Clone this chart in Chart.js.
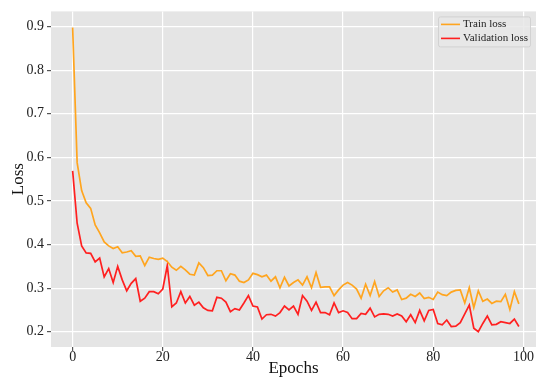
<!DOCTYPE html>
<html>
<head>
<meta charset="utf-8">
<script src="https://cdn.jsdelivr.net/npm/chart.js@4.4.1/dist/chart.umd.min.js"></script>
<style>
  html, body { margin: 0; padding: 0; background: #fff; overflow: hidden; }
  #wrap { width: 536px; height: 379px; }
</style>
</head>
<body>
<div id="wrap"><canvas id="lossChart" width="536" height="379"></canvas></div>
<script>
// values
var epochs = [];
for (var i = 0; i < 100; i++) epochs.push(i);

var trainLoss = [
  0.898, 0.588, 0.524, 0.496, 0.483, 0.445, 0.427, 0.406, 0.397, 0.391,
  0.395, 0.381, 0.383, 0.386, 0.373, 0.374, 0.352, 0.371, 0.368, 0.366,
  0.369, 0.361, 0.348, 0.341, 0.350, 0.342, 0.332, 0.330, 0.358, 0.347,
  0.329, 0.330, 0.340, 0.340, 0.317, 0.333, 0.330, 0.316, 0.313, 0.319,
  0.334, 0.331, 0.326, 0.330, 0.316, 0.326, 0.301, 0.325, 0.305, 0.313,
  0.319, 0.307, 0.326, 0.301, 0.336, 0.302, 0.303, 0.303, 0.283, 0.296,
  0.307, 0.313, 0.307, 0.298, 0.277, 0.309, 0.283, 0.315, 0.281, 0.294,
  0.301, 0.291, 0.296, 0.274, 0.277, 0.286, 0.281, 0.289, 0.276, 0.279,
  0.274, 0.291, 0.285, 0.283, 0.291, 0.295, 0.296, 0.266, 0.301, 0.255,
  0.294, 0.270, 0.275, 0.265, 0.270, 0.269, 0.286, 0.251, 0.292, 0.264
];

var validLoss = [
  0.569, 0.449, 0.397, 0.381, 0.380, 0.360, 0.369, 0.326, 0.345, 0.313,
  0.350, 0.319, 0.294, 0.311, 0.322, 0.270, 0.277, 0.292, 0.292, 0.287,
  0.298, 0.352, 0.257, 0.266, 0.292, 0.266, 0.281, 0.261, 0.268, 0.255,
  0.249, 0.248, 0.279, 0.277, 0.268, 0.246, 0.253, 0.250, 0.266, 0.283,
  0.259, 0.257, 0.229, 0.239, 0.240, 0.236, 0.244, 0.259, 0.250, 0.259,
  0.240, 0.283, 0.270, 0.249, 0.268, 0.244, 0.244, 0.239, 0.266, 0.244,
  0.248, 0.244, 0.230, 0.230, 0.242, 0.240, 0.254, 0.234, 0.240, 0.241,
  0.240, 0.236, 0.241, 0.236, 0.223, 0.239, 0.221, 0.249, 0.225, 0.249,
  0.251, 0.219, 0.216, 0.227, 0.212, 0.213, 0.221, 0.241, 0.261, 0.208,
  0.200, 0.219, 0.236, 0.216, 0.217, 0.223, 0.221, 0.219, 0.229, 0.212
];

var xTicks = [0, 20, 40, 60, 80, 100];
var yTicks = [0.2, 0.3, 0.4, 0.5, 0.6, 0.7, 0.8, 0.9];

var serif = '"Liberation Serif", "DejaVu Serif", serif';

// grey panel behind the plot, ggplot style
var panelBg = {
  id: 'panelBg',
  beforeDraw: function (chart) {
    var a = chart.chartArea;
    var ctx = chart.ctx;
    ctx.save();
    ctx.fillStyle = '#e5e5e5';
    ctx.fillRect(a.left, a.top, a.right - a.left, a.bottom - a.top);
    ctx.restore();
  }
};

// legend drawn inside the top right corner of the panel
var innerLegend = {
  id: 'innerLegend',
  afterDatasetsDraw: function (chart) {
    var a = chart.chartArea;
    var ctx = chart.ctx;
    var boxW = 92, boxH = 30;
    var bx = a.right - boxW - 6, by = a.top + 5;
    ctx.save();
    ctx.fillStyle = 'rgba(232,232,232,0.85)';
    ctx.strokeStyle = '#d2d2d2';
    ctx.lineWidth = 1;
    ctx.beginPath();
    ctx.roundRect(bx + 0.5, by + 0.5, boxW, boxH, 2);
    ctx.fill();
    ctx.stroke();
    ctx.font = '11px ' + serif;
    ctx.textBaseline = 'middle';
    chart.data.datasets.forEach(function (ds, k) {
      var ly = by + 8 + k * 14;
      ctx.strokeStyle = ds.borderColor;
      ctx.lineWidth = 1.6;
      ctx.beginPath();
      ctx.moveTo(bx + 3, ly);
      ctx.lineTo(bx + 22, ly);
      ctx.stroke();
      ctx.fillStyle = '#222';
      ctx.fillText(ds.label, bx + 25, ly);
    });
    ctx.restore();
  }
};

var ctx = document.getElementById('lossChart').getContext('2d');
var lossChart = new Chart(ctx, {
  type: 'line',
  data: {
    datasets: [{
      label: 'Train loss',
      data: epochs.map(function (e, i) { return { x: e, y: trainLoss[i] }; }),
      borderColor: '#ffa51f',
      borderWidth: 1.7,
      pointRadius: 0,
      tension: 0
    }, {
      label: 'Validation loss',
      data: epochs.map(function (e, i) { return { x: e, y: validLoss[i] }; }),
      borderColor: '#ff2020',
      borderWidth: 1.7,
      pointRadius: 0,
      tension: 0
    }]
  },
  options: {
    responsive: false,
    animation: false,
    layout: { padding: { left: 0, right: 0, top: 5, bottom: 0 } },
    plugins: {
      legend: { display: false },
      tooltip: { enabled: false }
    },
    scales: {
      x: {
        type: 'linear',
        min: -4.8,
        max: 102.8,
        afterBuildTicks: function (scale) {
          scale.ticks = xTicks.map(function (v) { return { value: v }; });
        },
        afterFit: function (scale) { scale.height = 32; },
        grid: { color: '#ffffff', lineWidth: 1.2, drawTicks: true, tickLength: 4, tickColor: '#555555' },
        border: { display: false },
        ticks: {
          padding: -2,
          color: '#222',
          font: { family: serif, size: 14 },
          callback: function (v) { return String(v); }
        },
        title: {
          display: true,
          text: 'Epochs',
          color: '#111',
          padding: { top: 0, bottom: 0 },
          font: { family: serif, size: 17 }
        }
      },
      y: {
        min: 0.165,
        max: 0.935,
        afterBuildTicks: function (scale) {
          scale.ticks = yTicks.map(function (v) { return { value: v }; });
        },
        afterFit: function (scale) { scale.width = 51; },
        grid: { color: '#ffffff', lineWidth: 1.2, drawTicks: true, tickLength: 4, tickColor: '#555555' },
        border: { display: false },
        ticks: {
          padding: 3,
          color: '#222',
          font: { family: serif, size: 14 },
          callback: function (v) { return v.toFixed(1); }
        },
        title: {
          display: true,
          text: 'Loss',
          color: '#111',
          padding: { top: 8, bottom: 0 },
          font: { family: serif, size: 17 }
        }
      }
    }
  },
  plugins: [panelBg, innerLegend]
});
</script>
</body>
</html>
